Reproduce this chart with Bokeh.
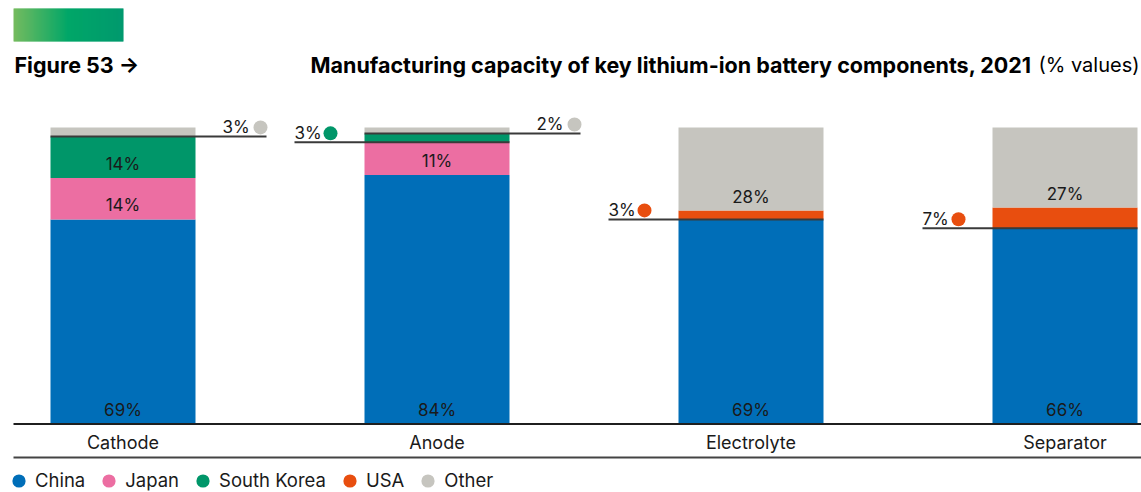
import numpy as np
from bokeh.plotting import figure
from bokeh.models import Range1d, ColumnDataSource, Legend, LegendItem
from bokeh.core.properties import value
from bokeh.embed import file_html
from bokeh.resources import INLINE

# ---------------- data ----------------
categories = ["Cathode", "Anode", "Electrolyte", "Separator"]
series = ["China", "Japan", "South Korea", "USA", "Other"]
china = [69, 84, 69, 66]
japan = [14, 11, 0, 0]
south_korea = [14, 3, 0, 0]
usa = [0, 0, 3, 7]
other = [3, 2, 28, 27]
colors = ["#006eb8", "#ec6ea2", "#009669", "#e84e0f", "#c6c5bf"]

figure_label = "Figure 53 \u2192"
title_main = "Manufacturing capacity of key lithium-ion battery components, 2021"
title_unit = "(% values)"

# ---------------- layout (page pixels) ----------------
W, H = 1141, 492
PAGE = 0
BASE_PY = 423.5      # page y of 0 %
TOP_PY = 127.0       # page y of 100 %
FIRST_LEFT_PX = 50
LAST_RIGHT_PX = 1137
BAR_PX = 145

n = len(categories)
KY = (BASE_PY - TOP_PY) / 100.0
KX = (LAST_RIGHT_PX - FIRST_LEFT_PX - BAR_PX) / (n - 1)
x_start = -((FIRST_LEFT_PX + BAR_PX / 2) - PAGE) / KX
x_end = x_start + W / KX
y_start = -((PAGE + H) - BASE_PY) / KY
y_end = y_start + H / KY


def X(px):
    return x_start + (px - PAGE) / KX


def Y(py):
    return y_end - (py - PAGE) / KY


def dx(px):
    return px / KX


def dy(px):
    return px / KY


FONT = "Inter"
TXT = "#1a1a1a"
LINE = "#3a3a3a"

p = figure(width=W, height=H, output_backend="svg", toolbar_location=None, tools="",
           x_range=Range1d(x_start, x_end), y_range=Range1d(y_start, y_end),
           x_axis_location=None, y_axis_location=None, title=None,
           min_border=0, min_border_left=0, min_border_right=0,
           min_border_top=0, min_border_bottom=0)
p.outline_line_color = None
p.background_fill_color = "white"
p.border_fill_color = "white"
p.grid.visible = False

xs = list(range(n))
values = [china, japan, south_korea, usa, other]
data = {"x": xs}
for s, v in zip(series, values):
    data[s] = v
src = ColumnDataSource(data)
BAR_W = BAR_PX / KX
p.vbar_stack(series, x="x", width=BAR_W, color=colors, line_color=None, source=src)

# ---------------- gradient badge ----------------
g_left, g_right, g_top, g_bot = 13, 123, 8, 41
stops = [(0.0, (116, 187, 95)), (0.5, (0, 166, 104)), (1.0, (0, 153, 110))]
nstrip = g_right - g_left
gl, gr, gc = [], [], []
for k in range(nstrip):
    t = k / (nstrip - 1)
    for (t0, c0), (t1, c1) in zip(stops[:-1], stops[1:]):
        if t0 <= t <= t1:
            f = (t - t0) / (t1 - t0)
            c = tuple(int(round(a + (b - a) * f)) for a, b in zip(c0, c1))
            break
    gl.append(X(g_left + k))
    gr.append(X(g_left + k + 1.6) if k < nstrip - 1 else X(g_left + k + 1))
    gc.append("#%02x%02x%02x" % c)
p.quad(left=gl, right=gr, top=Y(g_top), bottom=Y(g_bot), fill_color=gc, line_color=None)

# ---------------- titles ----------------
p.text(x=[X(14)], y=[Y(64)], text=[figure_label], text_font=value(FONT),
       text_font_style="bold", text_font_size="21.5px", text_color="black",
       text_align="left", text_baseline="middle")
p.text(x=[X(310)], y=[Y(64)], text=[title_main], text_font=value(FONT),
       text_font_style="bold", text_font_size="21.5px", text_color="black",
       text_align="left", text_baseline="middle")
p.text(x=[X(1139)], y=[Y(64)], text=[title_unit], text_font=value(FONT),
       text_font_size="20px", text_color="black",
       text_align="right", text_baseline="middle")

# ---------------- baseline rules ----------------
p.segment(x0=[X(13), X(13)], x1=[X(1141), X(1141)], y0=[0, Y(457)], y1=[0, Y(457)],
          line_color=["#1f1f1f", "#444444"], line_width=2)

# ---------------- labels ----------------
bottoms = np.cumsum([np.zeros(n)] + [np.array(v, dtype=float) for v in values[:-1]], axis=0)
in_x, in_y, in_t = [], [], []
lx0, lx1, ly = [], [], []
cx, cy, ct, dxs, dys, dcs = [], [], [], [], [], []
for si, (s, v) in enumerate(zip(series, values)):
    for i in range(n):
        val = v[i]
        if val <= 0:
            continue
        b = bottoms[si][i]
        if val >= 10:
            in_x.append(i)
            in_y.append(b + dy(14))
            in_t.append(f"{val}%")
        else:
            left_edge = i - BAR_W / 2
            right_edge = i + BAR_W / 2
            if s == "Other":
                lx0.append(left_edge)
                lx1.append(right_edge + dx(71))
                cx.append(right_edge + dx(27))
                dxs.append(right_edge + dx(65))
            else:
                lx0.append(left_edge - dx(70))
                lx1.append(right_edge)
                cx.append(left_edge - dx(70))
                dxs.append(left_edge - dx(34))
            ly.append(b)
            cy.append(b + dy(9))
            ct.append(f"{val}%")
            dys.append(b + dy(9))
            dcs.append(colors[si])

p.segment(x0=lx0, x1=lx1, y0=ly, y1=ly, line_color=LINE, line_width=2)
p.text(x=in_x, y=in_y, text=in_t, text_font=value(FONT), text_font_size="17px",
       text_color=TXT, text_align="center", text_baseline="middle")
p.text(x=cx, y=cy, text=ct, text_font=value(FONT), text_font_size="17px",
       text_color=TXT, text_align="left", text_baseline="middle")
p.scatter(x=dxs, y=dys, size=14, fill_color=dcs, line_color=None)

# category labels
p.text(x=xs, y=[dy(-18.5)] * n, text=categories, text_font=value(FONT), text_font_size="18px",
       text_color=TXT, text_align="center", text_baseline="middle")

# ---------------- legend ----------------
items = []
for s, c in zip(series, colors):
    r = p.scatter(x=[np.nan], y=[np.nan], size=14, fill_color=c, line_color=None)
    items.append(LegendItem(label=s, renderers=[r]))
legend = Legend(items=items, orientation="horizontal", location=(2, -4.5),
                glyph_width=33, glyph_height=33, label_standoff=0, spacing=7,
                padding=0, margin=0, border_line_color=None, background_fill_alpha=0,
                label_text_font=FONT, label_text_font_size="18.5px", label_text_color=TXT)
p.add_layout(legend, "center")

open("out.html", "w").write(file_html(p, INLINE))
